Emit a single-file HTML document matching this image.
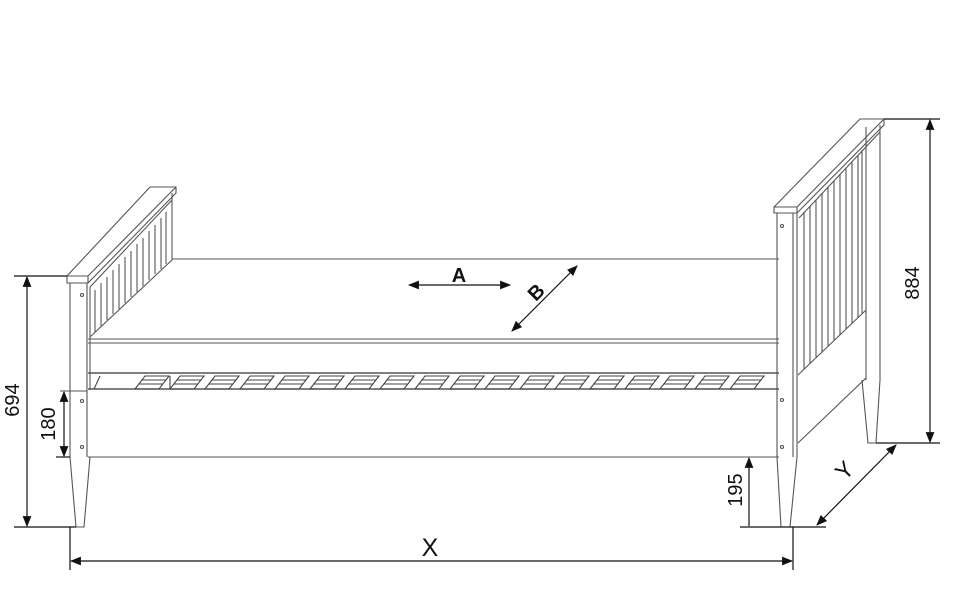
<!DOCTYPE html>
<html><head><meta charset="utf-8"><style>
html,body{margin:0;padding:0;background:#fff;}
svg{display:block;}
text{font-family:"Liberation Sans",Arial,sans-serif;fill:#111;}
</style></head><body>
<svg width="957" height="609" viewBox="0 0 957 609" xmlns="http://www.w3.org/2000/svg">
<defs>
<marker id="ar" viewBox="0 0 10 10" refX="9" refY="5" markerWidth="11" markerHeight="11" orient="auto-start-reverse" markerUnits="userSpaceOnUse"><path d="M0,1 L10,5 L0,9 Z" fill="#111"/></marker>
</defs>
<g fill="none" stroke="#555" stroke-width="1.1">
<line x1="172" y1="259" x2="779" y2="259"/>
<line x1="88" y1="339" x2="779" y2="339"/>
<line x1="88" y1="343" x2="779" y2="343"/>
<line x1="88" y1="373" x2="779" y2="373" stroke-width="1.6"/>
<line x1="88" y1="389" x2="779" y2="389" stroke-width="1.6"/>
<line x1="88" y1="457" x2="779" y2="457"/>
<polygon points="67,276 88,276 88,283 67,283" fill="#fff"/>
<polyline points="67,276 150,187 176,187 176,193 88,283"/>
<line x1="88" y1="276" x2="176" y2="187"/>
<line x1="90" y1="287" x2="172" y2="200"/>
<line x1="70" y1="283" x2="70" y2="457"/>
<line x1="87" y1="283" x2="87" y2="457"/>
<line x1="90" y1="287" x2="90" y2="390"/>
<line x1="172" y1="193" x2="172" y2="260"/>
<line x1="90" y1="337" x2="172" y2="260"/>
<line x1="60" y1="391" x2="87" y2="391"/>
<polyline points="70,457 76,527 84,527 90,457"/>
<g>
<line x1="95" y1="290" x2="95" y2="332"/><line x1="101" y1="283" x2="101" y2="326"/>
<line x1="107" y1="277" x2="107" y2="320"/><line x1="113" y1="270" x2="113" y2="314"/>
<line x1="119" y1="264" x2="119" y2="309"/><line x1="125" y1="257" x2="125" y2="303"/>
<line x1="131" y1="251" x2="131" y2="297"/><line x1="137" y1="244" x2="137" y2="292"/>
<line x1="143" y1="238" x2="143" y2="286"/><line x1="149" y1="231" x2="149" y2="280"/>
<line x1="155" y1="225" x2="155" y2="274"/><line x1="161" y1="218" x2="161" y2="269"/>
<line x1="166" y1="212" x2="166" y2="264"/>
</g>
<circle cx="82" cy="295" r="1.5"/><circle cx="82" cy="401" r="1.5"/><circle cx="82" cy="447" r="1.5"/>
<g stroke="#444">
<path d="M145,376 h24 l-10,13 h-24 Z M142,380 h24 M139,384 h24"/>
<path d="M180,376 h24 l-10,13 h-24 Z M177,380 h24 M174,384 h24"/>
<path d="M215,376 h24 l-10,13 h-24 Z M212,380 h24 M209,384 h24"/>
<path d="M250,376 h24 l-10,13 h-24 Z M247,380 h24 M244,384 h24"/>
<path d="M285,376 h24 l-10,13 h-24 Z M282,380 h24 M279,384 h24"/>
<path d="M320,376 h24 l-10,13 h-24 Z M317,380 h24 M314,384 h24"/>
<path d="M355,376 h24 l-10,13 h-24 Z M352,380 h24 M349,384 h24"/>
<path d="M390,376 h24 l-10,13 h-24 Z M387,380 h24 M384,384 h24"/>
<path d="M425,376 h24 l-10,13 h-24 Z M422,380 h24 M419,384 h24"/>
<path d="M460,376 h24 l-10,13 h-24 Z M457,380 h24 M454,384 h24"/>
<path d="M495,376 h24 l-10,13 h-24 Z M492,380 h24 M489,384 h24"/>
<path d="M530,376 h24 l-10,13 h-24 Z M527,380 h24 M524,384 h24"/>
<path d="M565,376 h24 l-10,13 h-24 Z M562,380 h24 M559,384 h24"/>
<path d="M600,376 h24 l-10,13 h-24 Z M597,380 h24 M594,384 h24"/>
<path d="M635,376 h24 l-10,13 h-24 Z M632,380 h24 M629,384 h24"/>
<path d="M670,376 h24 l-10,13 h-24 Z M667,380 h24 M664,384 h24"/>
<path d="M705,376 h24 l-10,13 h-24 Z M702,380 h24 M699,384 h24"/>
<path d="M740,376 h24 l-10,13 h-24 Z M737,380 h24 M734,384 h24"/>
<line x1="170" y1="376" x2="170" y2="389"/><line x1="100" y1="376" x2="94" y2="389"/>
</g>
<polygon points="774,207 797,207 797,213 774,213" fill="#fff"/>
<polyline points="774,207 860,119 884,119 884,125 797,213"/>
<line x1="797" y1="207" x2="884" y2="119"/>
<line x1="799" y1="218" x2="880" y2="132"/>
<line x1="777" y1="213" x2="777" y2="457"/>
<line x1="793" y1="213" x2="793" y2="457"/>
<line x1="797" y1="213" x2="797" y2="457"/>
<line x1="866" y1="127" x2="866" y2="380"/>
<line x1="880" y1="125" x2="880" y2="380"/>
<polyline points="798,375 866,310"/>
<polyline points="798,443 866,378"/>
<polyline points="777,457 781,527 790,527 797,457"/>
<polyline points="862,380 868,443 876,443 880,380"/>
<g>
<line x1="804" y1="212" x2="804" y2="369"/><line x1="810" y1="206" x2="810" y2="363"/>
<line x1="816" y1="200" x2="816" y2="357"/><line x1="822" y1="193" x2="822" y2="352"/>
<line x1="828" y1="187" x2="828" y2="346"/><line x1="834" y1="181" x2="834" y2="340"/>
<line x1="840" y1="174" x2="840" y2="335"/><line x1="846" y1="168" x2="846" y2="329"/>
<line x1="852" y1="162" x2="852" y2="323"/><line x1="858" y1="155" x2="858" y2="318"/>
<line x1="862" y1="150" x2="862" y2="313"/>
</g>
<circle cx="782" cy="226" r="1.5"/><circle cx="782" cy="400" r="1.5"/><circle cx="782" cy="447" r="1.5"/>
</g>
<g stroke="#111" stroke-width="1.2" fill="none">
<line x1="14" y1="276" x2="67" y2="276"/>
<line x1="14" y1="527" x2="76" y2="527"/>
<line x1="27" y1="277" x2="27" y2="526" marker-start="url(#ar)" marker-end="url(#ar)"/>
<line x1="56" y1="457" x2="70" y2="457"/>
<line x1="64" y1="392" x2="64" y2="456" marker-start="url(#ar)" marker-end="url(#ar)"/>
<line x1="884" y1="119" x2="940" y2="119"/>
<line x1="876" y1="443" x2="940" y2="443"/>
<line x1="930" y1="120" x2="930" y2="442" marker-start="url(#ar)" marker-end="url(#ar)"/>
<line x1="740" y1="527" x2="826" y2="527"/>
<line x1="749" y1="526" x2="749" y2="458" marker-end="url(#ar)"/>
<line x1="70" y1="527" x2="70" y2="570"/>
<line x1="793" y1="527" x2="793" y2="570"/>
<line x1="71" y1="561" x2="792" y2="561" marker-start="url(#ar)" marker-end="url(#ar)"/>
<line x1="817" y1="525" x2="896" y2="445" marker-start="url(#ar)" marker-end="url(#ar)"/>
<line x1="409" y1="285" x2="510" y2="285" marker-start="url(#ar)" marker-end="url(#ar)"/>
<line x1="512" y1="331" x2="577" y2="266" marker-start="url(#ar)" marker-end="url(#ar)"/>
</g>
<g font-size="20">
<text transform="translate(19,400) rotate(-90)" text-anchor="middle">694</text>
<text transform="translate(55,424) rotate(-90)" text-anchor="middle">180</text>
<text transform="translate(919,283) rotate(-90)" text-anchor="middle">884</text>
<text transform="translate(742,490) rotate(-90)" text-anchor="middle">195</text>
<text x="430" y="556" font-size="25" text-anchor="middle">X</text>
<text transform="translate(850,476) rotate(-45)" font-size="23" text-anchor="middle">Y</text>
<text x="459" y="282" font-weight="bold" text-anchor="middle">A</text>
<text transform="translate(541,297) rotate(-45)" font-weight="bold" text-anchor="middle">B</text>
</g>
</svg>
</body></html>
